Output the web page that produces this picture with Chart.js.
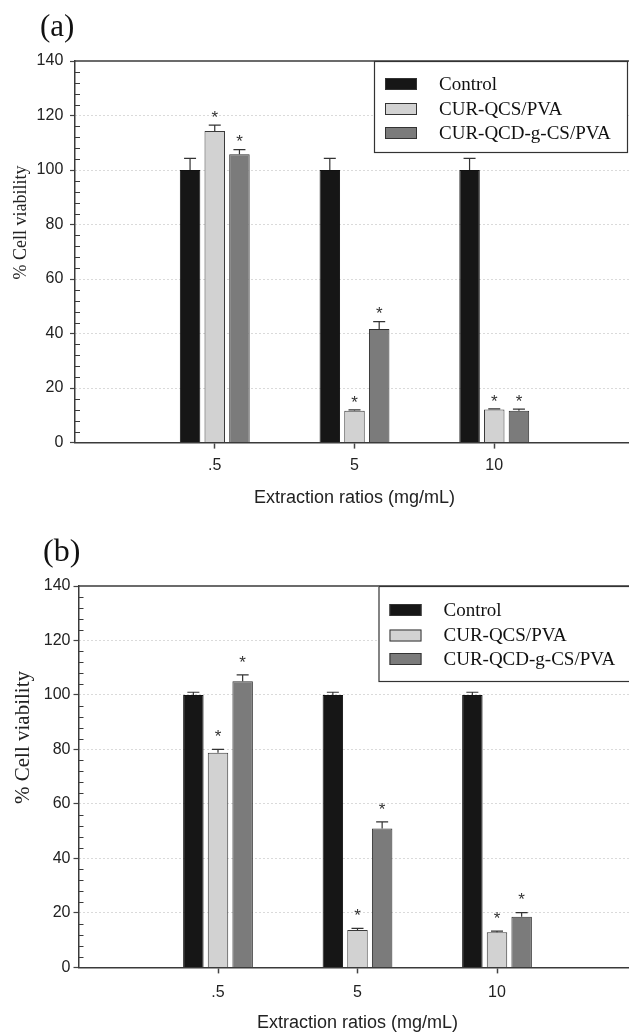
<!DOCTYPE html>
<html>
<head>
<meta charset="utf-8">
<script src="https://cdn.jsdelivr.net/npm/chart.js@4/dist/chart.umd.min.js"></script>
<style>
    html, body { margin: 0; padding: 0; background: #fff; overflow: hidden; width: 629px; height: 1034px; }
    canvas { position: absolute; left: 0; }
    #graficoA { top: 0; }
    #graficoB { top: 520px; }
</style>
</head>
<body>
<canvas id="graficoA" width="645" height="520"></canvas>
<canvas id="graficoB" width="645" height="514"></canvas>
<script>
// Categorias e séries
const categorias = ['.5', '5', '10']
const series = ['Control', 'CUR-QCS/PVA', 'CUR-QCD-g-CS/PVA']
const yTicks = [0, 20, 40, 60, 80, 100, 120, 140]

// Painel (a): % viabilidade e desvio (barra de erro superior)
const controleA = [100, 100, 100]
const controleErroA = [4.3, 4.3, 4.3]
const qcsA = [114.3, 11.7, 12.1]
const qcsErroA = [2.2, 0.3, 0.3]
const qcdA = [105.8, 41.7, 11.7]
const qcdErroA = [1.7, 2.7, 0.6]

// Painel (b)
const controleB = [100, 100, 100]
const controleErroB = [1, 1, 1]
const qcsB = [78.8, 13.7, 12.9]
const qcsErroB = [1.2, 0.6, 0.4]
const qcdB = [105.0, 51.0, 18.6]
const qcdErroB = [2.4, 2.4, 1.5]

const SERIF = '"Liberation Serif", "Times New Roman", serif'
const SANS = '"Liberation Sans", Arial, sans-serif'
const cores = ['#161616', '#d2d2d2', '#7b7b7b']
const bordas = ['#111111', '#3a3a3a', '#2e2e2e']

// Desenhos extras: moldura, ticks menores, barras de erro, asteriscos, legenda e rótulos
const extras = {
    id: 'extras',
    beforeDatasetsDraw(chart, args, p) {
        const { ctx, chartArea: area, scales: { y } } = chart
        ctx.save()
        ctx.strokeStyle = '#3a3a3a'
        ctx.lineWidth = 1.5
        ctx.beginPath()
        ctx.moveTo(area.left, area.top)
        ctx.lineTo(area.right + 10, area.top)
        ctx.stroke()
        // ticks menores para dentro
        ctx.lineWidth = 1.2
        ctx.beginPath()
        for (let v = 0; v <= 140; v += 4) {
            if (v % 20 === 0) continue
            const py = Math.round(y.getPixelForValue(v)) + 0.5
            ctx.moveTo(area.left, py)
            ctx.lineTo(area.left + 5, py)
        }
        ctx.stroke()
        ctx.restore()
    },
    afterDatasetsDraw(chart, args, p) {
        const { ctx, scales: { y } } = chart
        ctx.save()
        chart.data.datasets.forEach((ds, d) => {
            const meta = chart.getDatasetMeta(d)
            meta.data.forEach((bar, i) => {
                const topo = y.getPixelForValue(ds.data[i].y + ds.erros[i])
                ctx.strokeStyle = '#333'
                ctx.lineWidth = 1.2
                ctx.beginPath()
                ctx.moveTo(bar.x, bar.y)
                ctx.lineTo(bar.x, topo)
                ctx.moveTo(bar.x - 6, topo)
                ctx.lineTo(bar.x + 6, topo)
                ctx.stroke()
                if (ds.asterisco) {
                    ctx.fillStyle = '#333'
                    ctx.font = `17px ${SANS}`
                    ctx.textAlign = 'center'
                    ctx.textBaseline = 'alphabetic'
                    ctx.fillText('*', bar.x, topo - p.gapAsterisco + 9.8)
                }
            })
        })
        ctx.restore()
    },
    afterDraw(chart, args, p) {
        const { ctx, chartArea: area } = chart
        ctx.save()
        // legenda com moldura
        const leg = p.legenda
        const x0 = area.left + leg.dx
        const y0 = area.top
        ctx.fillStyle = '#fff'
        ctx.fillRect(x0, y0, leg.w, leg.h)
        ctx.strokeStyle = '#333'
        ctx.lineWidth = 1.2
        ctx.strokeRect(x0 + 0.5, y0 + 0.5, leg.w, leg.h)
        chart.data.datasets.forEach((ds, i) => {
            const cy = y0 + leg.linhas[i]
            ctx.fillStyle = ds.backgroundColor
            ctx.fillRect(x0 + 11, cy - 6, 32, 12)
            ctx.strokeStyle = '#333'
            ctx.lineWidth = 1
            ctx.strokeRect(x0 + 11.5, cy - 5.5, 31, 11)
            ctx.fillStyle = '#111'
            ctx.font = `${leg.fonte}px ${SERIF}`
            ctx.textAlign = 'left'
            ctx.textBaseline = 'middle'
            ctx.fillText(ds.label, x0 + 65, cy + 1)
        })
        // título do eixo y
        const t = p.tituloY
        ctx.translate(t.x, area.top + t.dy)
        ctx.rotate(-Math.PI / 2)
        ctx.fillStyle = '#222'
        ctx.font = `${t.fonte}px ${SERIF}`
        ctx.textAlign = 'center'
        ctx.textBaseline = 'middle'
        ctx.fillText('% Cell viability', 0, 0)
        ctx.setTransform(1, 0, 0, 1, 0, 0)
        // identificação do painel
        ctx.fillStyle = '#111'
        ctx.font = `${p.painel.fonte}px ${SERIF}`
        ctx.textAlign = 'left'
        ctx.textBaseline = 'alphabetic'
        ctx.fillText(p.painel.texto, p.painel.x, p.painel.y)
        ctx.restore()
    }
}

function criarGrafico(id, valores, erros, p) {
    const ctx = document.getElementById(id).getContext('2d')
    return new Chart(ctx, {
        type: 'bar',
        data: {
            datasets: series.map((nome, s) => ({
                label: nome,
                data: valores[s].map((v, i) => ({ x: i + 1, y: v })),
                erros: erros[s],
                asterisco: s > 0,
                backgroundColor: cores[s],
                borderColor: bordas[s],
                borderWidth: 1,
                categoryPercentage: 0.53,
                barPercentage: 0.83
            }))
        },
        options: {
            responsive: false,
            animation: false,
            layout: { padding: p.padding },
            plugins: {
                legend: { display: false },
                tooltip: { enabled: false },
                extras: p
            },
            scales: {
                x: {
                    type: 'linear',
                    min: 0,
                    max: 4,
                    offset: false,
                    afterBuildTicks: s => { s.ticks = categorias.map((c, i) => ({ value: i + 1 })) },
                    afterFit: s => { s.height = p.alturaX },
                    ticks: {
                        callback: v => categorias[v - 1] ?? '',
                        font: { family: SANS, size: 16 },
                        color: '#222',
                        padding: p.padX,
                        maxRotation: 0,
                        autoSkip: false
                    },
                    grid: { offset: false, drawOnChartArea: false, drawTicks: true, tickLength: 6, tickColor: '#444', tickWidth: 1.5 },
                    border: { color: '#3a3a3a', width: 1.5 },
                    title: {
                        display: true,
                        text: 'Extraction ratios (mg/mL)',
                        font: { family: SANS, size: 18 },
                        color: '#222',
                        padding: { top: 0, bottom: p.padTituloX }
                    }
                },
                y: {
                    min: 0,
                    max: 140,
                    afterBuildTicks: s => { s.ticks = yTicks.map(v => ({ value: v })) },
                    afterFit: s => { s.width = p.larguraY },
                    ticks: { font: { family: SANS, size: 16 }, color: '#222', padding: p.padY },
                    grid: {
                        color: c => (c.tick && (c.tick.value === 0 || c.tick.value === 140)) ? 'rgba(0,0,0,0)' : '#b4b4b4',
                        tickColor: '#444',
                        tickLength: 5,
                        tickWidth: 1.2,
                        tickBorderDash: []
                    },
                    border: { color: '#3a3a3a', width: 1.5, dash: [1, 3] }
                }
            }
        },
        plugins: [extras]
    })
}

criarGrafico('graficoA', [controleA, qcsA, qcdA], [controleErroA, qcsErroA, qcdErroA], {
    padding: { top: 61, right: 11, left: 0, bottom: 0 },
    larguraY: 75,
    alturaX: 77.4,
    padY: 6.7,
    padX: 7,
    padTituloX: 11.2,
    gapAsterisco: 12,
    tituloY: { x: 21, dy: 161.5, fonte: 18 },
    legenda: { dx: 299, w: 253, h: 91, linhas: [23, 48, 72], fonte: 19 },
    painel: { texto: '(a)', x: 40, y: 36, fonte: 31 }
})

criarGrafico('graficoB', [controleB, qcsB, qcdB], [controleErroB, qcsErroB, qcdErroB], {
    padding: { top: 66, right: 8.5, left: 0, bottom: 0 },
    larguraY: 78.5,
    alturaX: 66.6,
    padY: 3,
    padX: 10,
    padTituloX: 0.2,
    gapAsterisco: 17,
    tituloY: { x: 23, dy: 151.5, fonte: 21 },
    legenda: { dx: 300, w: 254, h: 95, linhas: [24, 49.5, 73], fonte: 19 },
    painel: { texto: '(b)', x: 43, y: 41, fonte: 32 }
})
</script>
</body>
</html>
